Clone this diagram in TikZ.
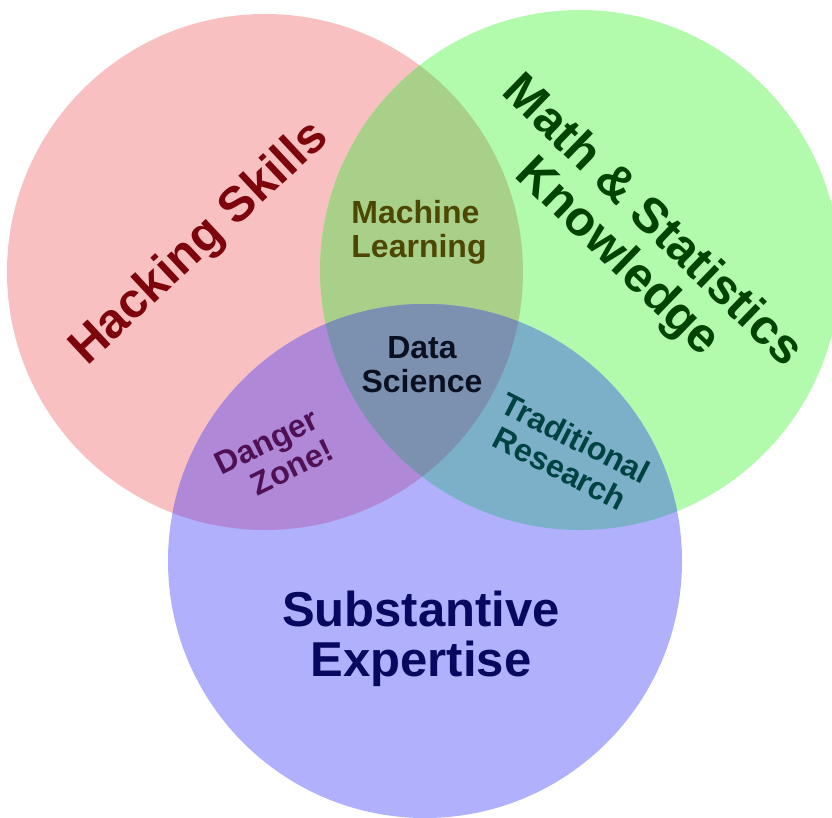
\documentclass[tikz,border=0pt]{standalone}
\usepackage{fontspec}
\setmainfont{Liberation Sans}
\usetikzlibrary{positioning}
\definecolor{hackfill}{RGB}{248,192,192}
\definecolor{mathfill}{RGB}{178,250,172}
\definecolor{subfill}{RGB}{176,176,252}
\definecolor{mlfill}{RGB}{168,208,136}
\definecolor{dangerfill}{RGB}{176,136,216}
\definecolor{tradfill}{RGB}{124,176,200}
\definecolor{dsfill}{RGB}{124,144,176}
\definecolor{hacktext}{RGB}{124,4,10}
\definecolor{mathtext}{RGB}{0,66,0}
\definecolor{mltext}{RGB}{76,72,4}
\definecolor{dstext}{RGB}{10,16,32}
\definecolor{dangertext}{RGB}{80,16,84}
\definecolor{tradtext}{RGB}{0,66,66}
\definecolor{subtext}{RGB}{8,8,96}
\tikzset{
BIG/.style={font=\bfseries\fontsize{49bp}{50bp}\selectfont, inner sep=0pt, align=center},
SMALL/.style={font=\bfseries\fontsize{32bp}{34bp}\selectfont, inner sep=0pt, align=center}
}

\begin{document}
\begin{tikzpicture}[x=1bp,y=-1bp]
\useasboundingbox (0,0) rectangle (832,818);
\clip (0,0) rectangle (832,818);
\coordinate (hack) at (265,272);
\coordinate (math) at (580,270);
\coordinate (sub) at (425,561);

\fill[hackfill] (hack) circle [radius=258];
\fill[mathfill] (math) circle [radius=260];
\fill[subfill] (sub) circle [radius=257];

% two-way overlaps
\begin{scope}
\clip (hack) circle [radius=258];
\fill[mlfill] (math) circle [radius=260];
\fill[dangerfill] (sub) circle [radius=257];
\end{scope}
\begin{scope}
\clip (math) circle [radius=260];
\fill[tradfill] (sub) circle [radius=257];
\end{scope}
% middle
\begin{scope}
\clip (hack) circle [radius=258];
\clip (math) circle [radius=260];
\fill[dsfill] (sub) circle [radius=257];
\end{scope}

\node[BIG, text=hacktext, rotate=43] (hacking) at (200,244) {Hacking Skills};
\node[BIG, text=mathtext, rotate=-44] (mathstat) at (634,240) {Math \& Statistics\\Knowledge};
\node[BIG, text=subtext] (subexp) at (421,639) {Substantive\\Expertise};
\node[SMALL, text=mltext, align=left] (ml) at (419,232) {Machine\\Learning};
\node[SMALL, text=dstext] (ds) at (422,365) {Data\\Science};
\node[SMALL, text=dangertext, rotate=26, align=right] (danger) at (274,457) {Danger\\Zone!};
\node[SMALL, text=tradtext, rotate=-27] (trad) at (568,453) {Traditional\\Research};
\end{tikzpicture}
\end{document}
